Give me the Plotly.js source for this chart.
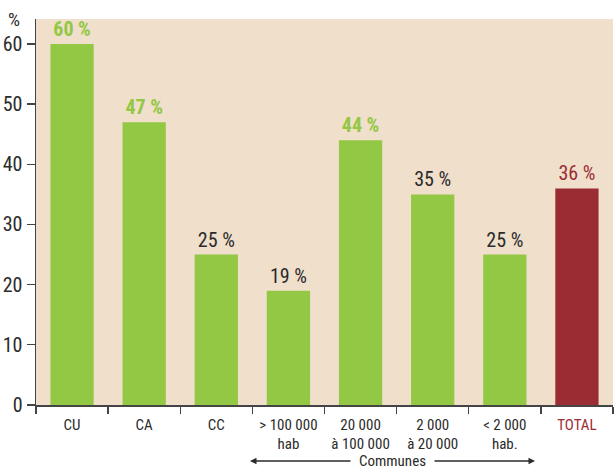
<!DOCTYPE html>
<html><head><meta charset="utf-8">
<script src="https://cdn.plot.ly/plotly-3.0.1.min.js"></script>
<style>body{margin:0;background:#fff}#c{width:614px;height:470px}</style>
</head><body><div id="c"></div>
<script>
const categories = ['CU','CA','CC','> 100 000<br>hab','20 000<br>à 100 000','2 000<br>à 20 000','< 2 000<br>hab.','TOTAL'];
const values = [60, 47, 25, 19, 44, 35, 25, 36];
const labels = ['<b>60 %</b>','<b>47 %</b>','25 %','19 %','<b>44 %</b>','35 %','25 %','36 %'];
const yTicks = [0,10,20,30,40,50,60];

const green = '#93c844', red = '#9b2c34', dark = '#2b2b2b';
const barColors = values.map((v,i)=> i===7 ? red : green);
const labelColors = [green, green, dark, dark, green, dark, dark, red];
const tickText = categories.map((c,i)=> i===7 ? '<span style="color:'+red+'">'+c+'</span>' : c);

const font = 'Liberation Sans Narrow, Roboto Condensed, Arial Narrow, sans-serif';
const yc = (405-461)/386;

Plotly.newPlot('c', [{
  type:'bar', x:categories, y:values, marker:{color:barColors},
  text:labels, textposition:'outside', cliponaxis:false,
  textfont:{family:font, size:20, color:labelColors}, hoverinfo:'none'
}], {
  width:614, height:470,
  margin:{l:36, r:1, t:19, b:65},
  paper_bgcolor:'#ffffff', plot_bgcolor:'#f0dfcb',
  bargap:0.4, showlegend:false,
  font:{family:font, color:dark},
  xaxis:{type:'category', tickvals:categories, ticktext:tickText, tickson:'boundaries',
    ticks:'outside', ticklen:7, tickcolor:'#444', tickwidth:1.3, showline:true, linecolor:'#444', linewidth:1.5,
    showgrid:false, tickfont:{family:font, size:15, color:dark}, ticklabelstandoff:5, range:[-0.5,7.5], fixedrange:true},
  yaxis:{range:[0,64.15], tickvals:yTicks, ticks:'outside', ticklen:8, tickcolor:'#444', tickwidth:1.3,
    showline:true, linecolor:'#444', linewidth:1.5, showgrid:false, zeroline:false,
    tickfont:{family:font, size:20, color:dark}, ticklabelstandoff:0},
  annotations:[
    {xref:'paper', yref:'paper', x:-0.038, y:1.0, xanchor:'center', yanchor:'middle', text:'%', showarrow:false,
     font:{family:font, size:19, color:dark}},
    {xref:'paper', yref:'paper', x:(392-36)/577, y:yc, xanchor:'center', yanchor:'middle', text:'Communes', showarrow:false,
     font:{family:font, size:15, color:dark}},
    {xref:'paper', yref:'paper', x:(250-36)/577, y:yc, ax:102, ay:0, text:'', showarrow:true, arrowhead:2, arrowsize:1, arrowwidth:1.3, arrowcolor:dark},
    {xref:'paper', yref:'paper', x:(535-36)/577, y:yc, ax:-102, ay:0, text:'', showarrow:true, arrowhead:2, arrowsize:1, arrowwidth:1.3, arrowcolor:dark}
  ]
}, {staticPlot:true});
</script></body></html>
